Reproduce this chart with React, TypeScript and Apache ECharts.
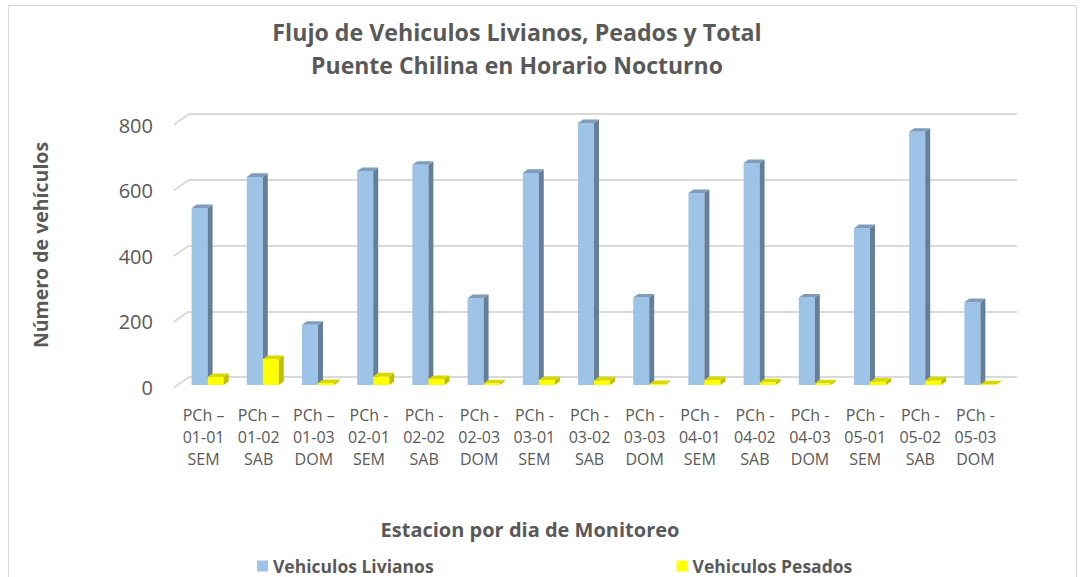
import React, { useEffect, useRef } from "react";
import * as echarts from "echarts";

const categories = [
  "PCh –\n01-01\nSEM", "PCh –\n01-02\nSAB", "PCh –\n01-03\nDOM",
  "PCh -\n02-01\nSEM", "PCh -\n02-02\nSAB", "PCh -\n02-03\nDOM",
  "PCh -\n03-01\nSEM", "PCh -\n03-02\nSAB", "PCh -\n03-03\nDOM",
  "PCh -\n04-01\nSEM", "PCh -\n04-02\nSAB", "PCh -\n04-03\nDOM",
  "PCh -\n05-01\nSEM", "PCh -\n05-02\nSAB", "PCh -\n05-03\nDOM",
];
const livianos = [538, 633, 183, 651, 670, 264, 645, 797, 266, 584, 675, 266, 477, 770, 252];
const pesados = [24, 79, 6, 26, 18, 5, 15, 14, 3, 15, 8, 5, 10, 14, 2];
const yTicks = [0, 200, 400, 600, 800];

const FONT = "'Open Sans', sans-serif";
const GREY = "#595959";

function bar3d(offset: number, front: string, side: string, top: string) {
  return (params: any, api: any) => {
    const x = api.value(0);
    const v = api.value(1);
    const c = api.coord([x, v]);
    const b = api.coord([x, 0]);
    const band = api.size([1, 0])[0];
    const w = band * 0.29;
    const dx = band * 0.09;
    const dy = 3.6;
    const l = c[0] + offset * band;
    const t = c[1];
    const bt = b[1];
    return {
      type: "group",
      children: [
        { type: "rect", shape: { x: l, y: t, width: w, height: bt - t }, style: { fill: front } },
        {
          type: "polygon",
          shape: { points: [[l + w, t], [l + w + dx, t - dy], [l + w + dx, bt - dy], [l + w, bt]] },
          style: { fill: side },
        },
        {
          type: "polygon",
          shape: { points: [[l, t], [l + dx, t - dy], [l + w + dx, t - dy], [l + w, t]] },
          style: { fill: top },
        },
      ],
    };
  };
}

export default function App() {
  const ref = useRef<HTMLDivElement>(null);
  useEffect(() => {
    document.body.style.margin = "0";
    const chart = echarts.init(ref.current!, null, { renderer: "svg" });
    const option: any = {
      animation: false,
      backgroundColor: "#ffffff",
      grid: [
        { left: 182, right: 70, top: 122, bottom: 192 },
        { left: 189, right: 63, top: 114, bottom: 200 },
        { left: 176, right: 77, top: 125, bottom: 190 },
      ],
      xAxis: [
        { gridIndex: 0, type: "category", data: categories, show: false },
        { gridIndex: 1, type: "value", min: 0, max: 1, show: false },
        {
          gridIndex: 2,
          type: "category",
          data: categories,
          axisLine: { show: false },
          axisTick: { show: false },
          axisLabel: { color: GREY, fontFamily: FONT, fontSize: 16, lineHeight: 22, margin: 17, interval: 0 },
        },
      ],
      yAxis: [
        { gridIndex: 0, type: "value", min: 0, max: 800, interval: 200, show: false },
        {
          gridIndex: 1,
          type: "value",
          min: 0,
          max: 800,
          interval: 200,
          axisLine: { show: false },
          axisTick: { show: false },
          axisLabel: { show: false },
          splitLine: { show: true, lineStyle: { color: "#d9d9d9", width: 2 } },
        },
        {
          gridIndex: 2,
          type: "value",
          min: 0,
          max: 800,
          interval: 200,
          axisLine: { show: false },
          axisTick: { show: false },
          splitLine: { show: false },
          axisLabel: { color: GREY, fontFamily: FONT, fontSize: 20, margin: 23 },
        },
      ],
      legend: {
        data: ["Vehiculos Livianos", "Vehiculos Pesados"],
        left: 257,
        top: 557,
        padding: 0,
        itemGap: 243,
        itemWidth: 11,
        itemHeight: 11,
        icon: "rect",
        textStyle: { color: GREY, fontFamily: FONT, fontSize: 17.5, fontWeight: "bold" },
      },
      graphic: [
        {
          type: "rect",
          shape: { x: 8.5, y: 5.5, width: 1068, height: 620 },
          style: { fill: "none", stroke: "#d9d9d9", lineWidth: 1 },
          silent: true,
        },
        {
          type: "text",
          x: 517,
          y: 32,
          style: {
            text: "Flujo de Vehiculos Livianos, Peados y Total",
            align: "center",
            verticalAlign: "middle",
            fill: GREY,
            font: `bold 23.2px ${FONT}`,
          },
        },
        {
          type: "text",
          x: 517,
          y: 65,
          style: {
            text: "Puente Chilina en Horario Nocturno",
            align: "center",
            verticalAlign: "middle",
            fill: GREY,
            font: `bold 23px ${FONT}`,
          },
        },
        {
          type: "text",
          x: 40,
          y: 245,
          rotation: Math.PI / 2,
          style: {
            text: "Número de vehículos",
            align: "center",
            verticalAlign: "middle",
            fill: GREY,
            font: `bold 19.5px ${FONT}`,
          },
        },
        {
          type: "text",
          x: 530,
          y: 529,
          style: {
            text: "Estacion por dia de Monitoreo",
            align: "center",
            verticalAlign: "middle",
            fill: GREY,
            font: `bold 20px ${FONT}`,
          },
        },
      ],
      series: [
        {
          type: "custom",
          name: "gridSlants",
          xAxisIndex: 1,
          yAxisIndex: 1,
          data: yTicks.map((v) => [0, v]),
          silent: true,
          renderItem: (params: any, api: any) => {
            const p = api.coord([0, api.value(1)]);
            return {
              type: "line",
              shape: { x1: p[0], y1: p[1], x2: p[0] - 15, y2: p[1] + 10.5 },
              style: { stroke: "#d9d9d9", lineWidth: 2 },
            };
          },
        },
        {
          type: "custom",
          name: "Vehiculos Livianos",
          xAxisIndex: 0,
          yAxisIndex: 0,
          itemStyle: { color: "#9dc3e6" },
          data: livianos.map((v, i) => [i, v]),
          renderItem: bar3d(-0.326, "#9dc3e6", "#667f99", "#7f9cbd"),
        },
        {
          type: "custom",
          name: "Vehiculos Pesados",
          xAxisIndex: 0,
          yAxisIndex: 0,
          itemStyle: { color: "#ffff00" },
          data: pesados.map((v, i) => [i, v]),
          renderItem: bar3d(-0.036, "#ffff00", "#bfbf00", "#d9d900"),
        },
      ],
    };
    chart.setOption(option);
    return () => chart.dispose();
  }, []);
  return (
    <div
      ref={ref}
      style={{ position: "fixed", left: 0, top: 0, width: 1080, height: 577 }}
    />
  );
}
